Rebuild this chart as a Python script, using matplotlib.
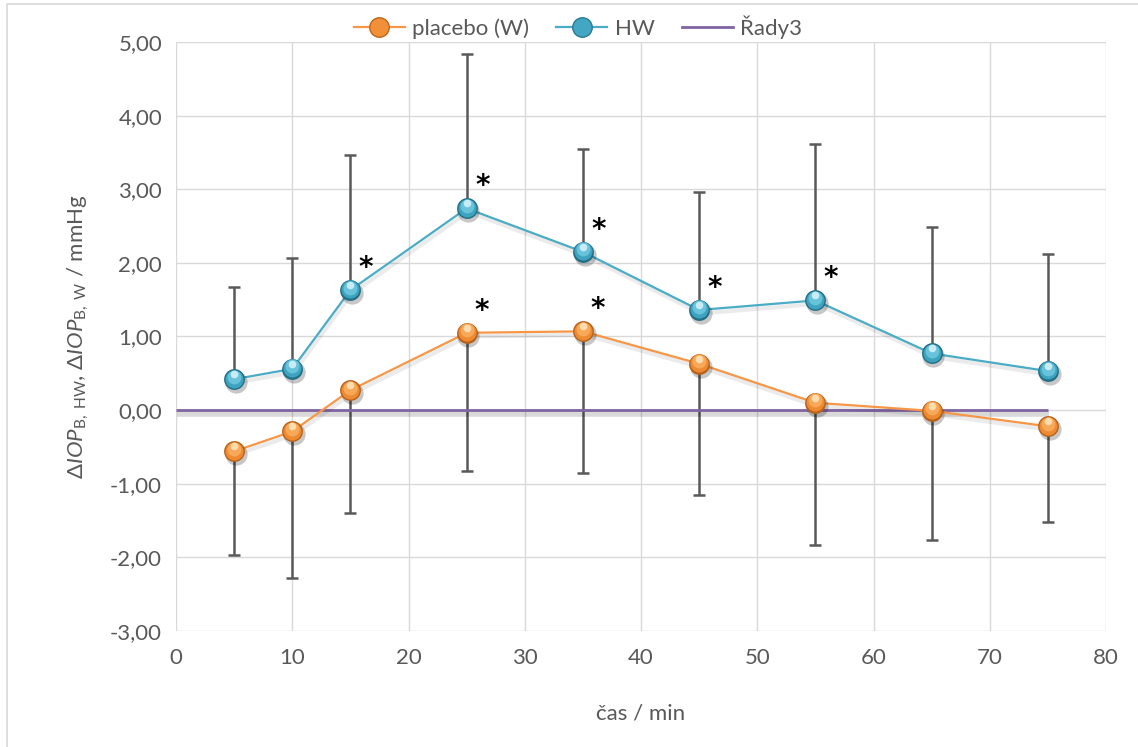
import matplotlib
matplotlib.use("Agg")
import matplotlib.pyplot as plt
import matplotlib.patheffects as pe
import matplotlib.transforms as mtransforms
from matplotlib.lines import Line2D
from matplotlib.patches import Rectangle

# ---- data ----
time_min = [5, 10, 15, 25, 35, 45, 55, 65, 75]
placebo = [-0.56, -0.29, 0.27, 1.05, 1.07, 0.63, 0.10, -0.01, -0.22]
placebo_err = [1.41, 1.99, 1.67, 1.88, 1.93, 1.78, 1.93, 1.76, 1.30]
hw = [0.42, 0.56, 1.63, 2.74, 2.15, 1.36, 1.49, 0.77, 0.53]
hw_err = [1.25, 1.51, 1.83, 2.10, 1.40, 1.60, 2.12, 1.72, 1.59]
rady3_x = [0, 75]
rady3_y = [0, 0]
hw_signif = [15, 25, 35, 45, 55]
placebo_signif = [25, 35]
x_ticks = [0, 10, 20, 30, 40, 50, 60, 70, 80]
y_ticks = [-3, -2, -1, 0, 1, 2, 3, 4, 5]

plt.rcParams['font.family'] = ['Lato', 'DejaVu Sans']
plt.rcParams['mathtext.fontset'] = 'custom'
plt.rcParams['mathtext.rm'] = 'Lato'
plt.rcParams['mathtext.it'] = 'Lato:italic'

TXT = '#595959'
ORANGE = '#F79646'
BLUE = '#4BACC6'
PURPLE = '#8064A2'

fig = plt.figure(figsize=(11.38, 7.47), dpi=100)
ax = fig.add_axes([176 / 1138, 1 - 631 / 747, 930 / 1138, 589 / 747])

# chart-area border
fig.patches.append(Rectangle((7 / 1138, -0.01), 1.02, 1 - 4 / 747 + 0.01,
                             transform=fig.transFigure, fill=False,
                             edgecolor='#d9d9d9', linewidth=1.2, zorder=0))

ax.set_xlim(0, 80)
ax.set_ylim(-3, 5)
ax.set_xticks(x_ticks)
ax.set_yticks(y_ticks)
ax.set_yticklabels([f"{v:.2f}".replace('.', ',') for v in y_ticks])
ax.grid(True, color='#d9d9d9', linewidth=1.0)
ax.set_axisbelow(True)
for s in ax.spines.values():
    s.set_visible(False)
ax.tick_params(length=0, labelsize=16, colors=TXT, pad=10)
ax.tick_params(axis='x', pad=12)

soft_shadow = [pe.SimpleLineShadow(offset=(1, -2.5), shadow_color='k', alpha=0.08, linewidth=3),
               pe.Normal()]
ref_shadow = [pe.SimpleLineShadow(offset=(0.5, -3), shadow_color='k', alpha=0.15, linewidth=4),
              pe.Normal()]

# zero reference series
ax.plot(rady3_x, rady3_y, color=PURPLE, linewidth=2.0, zorder=3, path_effects=ref_shadow,
        solid_capstyle='butt')

# error bars: placebo downward, HW upward
ax.errorbar(time_min, placebo, yerr=[placebo_err, [0] * len(placebo_err)], fmt='none',
            ecolor='#595959', elinewidth=1.8, capsize=4.5, capthick=1.8, zorder=2)
ax.errorbar(time_min, hw, yerr=[[0] * len(hw_err), hw_err], fmt='none',
            ecolor='#595959', elinewidth=1.8, capsize=4.5, capthick=1.8, zorder=2)

ax.plot(time_min, placebo, color=ORANGE, linewidth=1.6, zorder=4, path_effects=soft_shadow)
ax.plot(time_min, hw, color=BLUE, linewidth=1.6, zorder=4, path_effects=soft_shadow)


def sphere(xs, ys, rim, base, mid, light, z=5):
    d = 15.0
    def off(dx, dy):
        return ax.transData + mtransforms.ScaledTranslation(dx / 72, dy / 72, fig.dpi_scale_trans)
    ax.scatter(xs, ys, s=(d + 1) ** 2, color='k', alpha=0.22, linewidths=0,
               transform=off(1.2, -2.0), zorder=z)
    ax.scatter(xs, ys, s=d ** 2, color=rim, linewidths=0, zorder=z + 0.1)
    ax.scatter(xs, ys, s=(d - 2.0) ** 2, color=base, linewidths=0,
               transform=off(0, 0.5), zorder=z + 0.2)
    ax.scatter(xs, ys, s=(d - 5.0) ** 2, color=mid, linewidths=0, alpha=0.9,
               transform=off(0, 1.8), zorder=z + 0.3)
    ax.scatter(xs, ys, s=(d - 9.5) ** 2, color=light, linewidths=0, alpha=0.9,
               transform=off(0, 3.6), zorder=z + 0.4)


sphere(time_min, placebo, '#B8621C', '#EE8A30', '#F9AC5E', '#FFE2B8')
sphere(time_min, hw, '#226F86', '#3EA3BF', '#6CC6DE', '#D2F1FA')

# significance marks
for t in hw_signif:
    v = hw[time_min.index(t)]
    ax.text(t + 1.35, v + 0.30, '*', fontsize=20, fontweight='bold', color='k',
            ha='center', va='center', family='DejaVu Sans', zorder=6)
for t in placebo_signif:
    v = placebo[time_min.index(t)]
    ax.text(t + 1.3, v + 0.30, '*', fontsize=20, fontweight='bold', color='k',
            ha='center', va='center', family='DejaVu Sans', zorder=6)

ax.set_xlabel('čas / min', fontsize=16, color=TXT, labelpad=26)
ax.set_ylabel(r'Δ$\mathit{IOP}_{\mathrm{B,\ HW}}$, Δ$\mathit{IOP}_{\mathrm{B,\ W}}$ / mmHg',
              fontsize=16, color=TXT, labelpad=14)

handles = [
    Line2D([], [], color=ORANGE, linewidth=1.6, marker='o', markersize=14,
           markerfacecolor='#F19039', markeredgecolor='#C0651A'),
    Line2D([], [], color=BLUE, linewidth=1.6, marker='o', markersize=14,
           markerfacecolor='#43A7C3', markeredgecolor='#2A7A91'),
    Line2D([], [], color=PURPLE, linewidth=2.0),
]
leg = fig.legend(handles, ['placebo (W)', 'HW', 'Řady3'], loc='center',
                 bbox_to_anchor=(578 / 1138, 1 - 27 / 747), ncol=3, frameon=False,
                 fontsize=16, handlelength=2.3, columnspacing=1.2, handletextpad=0.35)
for t in leg.get_texts():
    t.set_color(TXT)

fig.savefig('out.png', dpi=100)
